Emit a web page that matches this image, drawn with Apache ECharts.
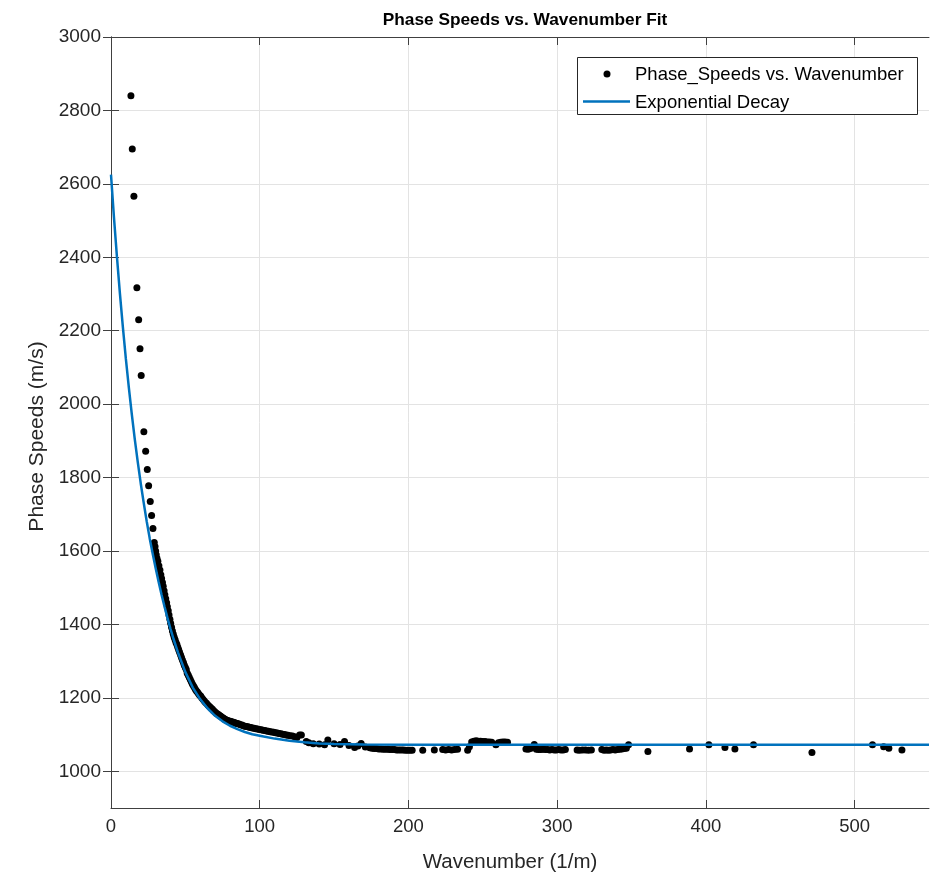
<!DOCTYPE html>
<html>
<head>
<meta charset="utf-8">
<script src="https://cdn.jsdelivr.net/npm/echarts@6/dist/echarts.min.js"></script>
<style>html,body{margin:0;padding:0;background:#fff;}#c{width:930px;height:878px;}</style>
</head>
<body>
<div id="c"></div>
<script>
// ---- data ----
const chartTitle = 'Phase Speeds vs. Wavenumber Fit';
const xAxisName = 'Wavenumber (1/m)';
const yAxisName = 'Phase Speeds (m/s)';
const scatterName = 'Phase_Speeds vs. Wavenumber';
const fitName = 'Exponential Decay';
const xTicks = [0, 100, 200, 300, 400, 500];
const yTicks = [1000, 1200, 1400, 1600, 1800, 2000, 2200, 2400, 2600, 2800, 3000];

// measured points: wavenumber
const waveNumbers = [
  13.4,14.3,15.4,17.4,18.6,19.5,20.3,22.1,23.3,24.4,25.3,26.4,27.3,28.2,29.1,29.6,30.0,30.4,30.9,31.5,
  32.2,32.9,33.5,34.0,34.6,35.1,35.7,36.2,36.8,37.4,37.9,38.5,39.0,39.6,40.1,40.7,41.3,41.9,42.5,43.1,
  43.7,44.3,44.9,45.5,46.1,46.8,47.4,48.0,48.7,49.3,50.0,50.6,51.2,51.9,52.6,53.3,54.0,54.7,55.4,56.1,
  56.8,57.5,58.2,58.9,59.6,60.3,61.0,61.8,62.6,63.4,64.2,65.0,65.8,66.6,67.4,68.2,69.0,69.8,70.6,71.4,
  72.2,73.0,73.8,74.6,75.4,76.2,77.0,77.8,78.6,79.4,80.2,81.0,81.8,82.6,83.4,84.2,85.0,86.0,87.0,88.0,
  89.0,90.0,91.0,92.0,93.0,94.0,95.0,96.2,97.4,98.6,99.8,101.0,102.2,103.4,104.6,105.8,107.0,108.2,109.4,110.6,
  111.8,113.0,114.2,115.4,116.6,117.8,119.0,120.5,122.0,123.5,125.0,126.8,128.0,131.3,133.0,136.0,140.0,143.6,145.8,150.0,
  154.0,157.0,160.0,163.8,166.0,168.2,171.0,174.0,175.5,177.0,178.5,180.0,181.5,183.0,184.5,186.0,187.5,189.0,190.5,192.0,
  193.5,195.0,196.5,198.0,199.5,201.0,202.5,209.6,217.4,223.0,225.0,227.0,229.0,231.0,233.0,239.8,241.0,242.5,244.0,245.5,
  247.0,248.5,250.0,251.5,253.0,254.5,256.0,258.8,260.5,262.0,263.5,265.0,266.6,279.0,280.5,282.0,284.6,286.0,287.5,289.0,
  290.5,292.0,293.5,295.0,296.5,298.0,299.5,301.0,302.5,304.0,305.5,313.4,315.0,317.0,319.0,321.0,323.0,330.0,331.5,333.0,
  334.5,336.0,337.5,339.0,340.5,342.0,343.5,345.0,346.5,348.0,361.0,389.0,402.0,412.8,419.5,432.0,471.3,512.0,519.5,523.0,
  531.8
];
// measured points: phase speed (m/s)
const phaseSpeeds = [
  2840,2695,2566,2317,2230,2151,2078,1925,1872,1822,1778,1735,1697,1661,1623,1612,1600,1590,1580,1572,
  1560,1548,1535,1525,1514,1504,1492,1481,1470,1459,1448,1437,1426,1414,1403,1392,1382,1373,1365,1358,
  1351,1345,1338,1331,1324,1317,1310,1303,1296,1289,1283,1277,1268,1262,1256,1250,1244,1238,1233,1228,
  1223,1219,1215,1211,1207,1205,1200,1196,1192,1188,1185,1181,1178,1175,1172,1169,1165,1162,1159,1157,
  1155,1152,1150,1147,1145,1143,1141,1139,1138,1136,1136,1135,1134,1133,1132,1130,1130,1129,1127,1126,
  1124,1123,1122,1121,1120,1119,1118,1117,1116,1115,1114,1113,1112,1111,1110,1109,1108,1107,1106,1105,
  1104,1103,1102,1101,1100,1099,1098,1097,1096,1094,1092,1099,1099,1081,1078,1075,1074,1072,1085,1075,
  1073,1081,1070,1065,1069,1076,1066,1064,1063,1062,1062,1061,1061,1060,1060,1060,1059,1059,1059,1058,
  1058,1058,1058,1057,1057,1057,1057,1057,1058,1059,1058,1059,1058,1059,1060,1057,1067,1080,1082,1083,
  1082,1082,1081,1081,1080,1080,1079,1072,1078,1079,1080,1080,1079,1061,1060,1062,1073,1060,1059,1059,
  1060,1059,1059,1058,1059,1058,1058,1059,1058,1058,1059,1058,1057,1058,1058,1057,1058,1059,1057,1058,
  1057,1058,1059,1058,1059,1060,1061,1062,1063,1072,1054,1061,1072,1065,1061,1072,1051,1072,1067,1063,
  1058
];

// fitted curve
const fitX = [0,2,4,6,8,10,12,14,16,18,20,22,24,26,28,30,32,34,36,38,40,42,45,50,55,60,65,70,75,80,85,90,95,100,110,120,130,140,150,170,200,250,550];
const fitY = [2625,2508,2401,2301,2209,2123,2045,1972,1904,1842,1784,1731,1681,1635,1593,1554,1516,1481,1448,1417,1388,1361,1324,1270,1228,1196,1171,1151,1136,1124,1115,1107,1101,1097,1089,1083,1079,1076,1074.5,1073,1072.5,1072,1072];

// ---- chart ----
const FONT = 'Liberation Sans, Arial, Helvetica, sans-serif';
const TXT = '#262626';
const AX = '#404040';
const BLUE = '#0072BD';
const scatterData = waveNumbers.map((x, i) => [x, phaseSpeeds[i]]);
const fitData = fitX.map((x, i) => [x, fitY[i]]);
const plainNum = v => String(v);

const baseX = {
  type: 'value', min: 0, max: 550,
  axisLine: { show: true, lineStyle: { color: AX, width: 1 } },
  axisTick: { show: true, inside: true, length: 8, customValues: xTicks, lineStyle: { color: AX } },
  axisLabel: { show: false, customValues: xTicks },
  splitLine: { show: false }
};
const baseY = {
  type: 'value', min: 900, max: 3000,
  axisLine: { show: true, lineStyle: { color: AX, width: 1 } },
  axisTick: { show: true, inside: true, length: 8, customValues: yTicks, lineStyle: { color: AX } },
  axisLabel: { show: false, customValues: yTicks },
  splitLine: { show: false }
};

const chart = echarts.init(document.getElementById('c'), null, { renderer: 'canvas' });
chart.setOption({
  animation: false,
  backgroundColor: '#ffffff',
  textStyle: { fontFamily: FONT },
  title: {
    text: chartTitle, left: 520, top: 7, textAlign: 'center',
    textStyle: { fontFamily: FONT, fontSize: 17.3, fontWeight: 'bold', color: '#000' }
  },
  grid: { left: 111, right: 1, top: 37, bottom: 70, containLabel: false },
  xAxis: [
    Object.assign({}, baseX, {
      position: 'bottom',
      name: xAxisName, nameLocation: 'middle', nameGap: 44,
      nameTextStyle: { fontFamily: FONT, fontSize: 20.5, color: TXT, padding: [0, 20, 0, 0] },
      axisLabel: { show: true, customValues: xTicks, margin: 9, fontFamily: FONT, fontSize: 18.5, color: TXT, formatter: plainNum },
      splitLine: { show: true, lineStyle: { color: '#e3e3e3', width: 1 } }
    }),
    Object.assign({}, baseX, { position: 'top' })
  ],
  yAxis: [
    Object.assign({}, baseY, {
      position: 'left',
      name: yAxisName, nameLocation: 'middle', nameGap: 62,
      nameTextStyle: { fontFamily: FONT, fontSize: 21, color: TXT, padding: [0, 28, 0, 0] },
      axisLabel: { show: true, customValues: yTicks, margin: 10, fontFamily: FONT, fontSize: 19, color: TXT, formatter: plainNum },
      splitLine: { show: true, lineStyle: { color: '#e3e3e3', width: 1 } }
    }),
    Object.assign({}, baseY, { position: 'right' })
  ],
  graphic: [
    { type: 'rect', left: 577, top: 57, z: 50, silent: true,
      shape: { width: 340, height: 57 },
      style: { fill: '#ffffff', stroke: '#262626', lineWidth: 1 } },
    { type: 'circle', z: 51, silent: true, shape: { cx: 607, cy: 74, r: 3.5 }, style: { fill: '#000' } },
    { type: 'text', z: 51, silent: true, x: 635, y: 75,
      style: { text: scatterName, fill: '#000', font: '18.5px ' + FONT, verticalAlign: 'middle', align: 'left' } },
    { type: 'line', z: 51, silent: true, shape: { x1: 583, y1: 101.5, x2: 630, y2: 101.5 },
      style: { stroke: BLUE, lineWidth: 2.5 } },
    { type: 'text', z: 51, silent: true, x: 635, y: 102.5,
      style: { text: fitName, fill: '#000', font: '18.5px ' + FONT, verticalAlign: 'middle', align: 'left' } }
  ],
  series: [
    {
      name: scatterName, type: 'scatter', data: scatterData,
      symbol: 'circle', symbolSize: 7,
      itemStyle: { color: '#000000', opacity: 1 }, z: 2
    },
    {
      name: fitName, type: 'line', data: fitData,
      showSymbol: false, symbol: 'none', smooth: false,
      lineStyle: { color: BLUE, width: 2.5 },
      itemStyle: { color: BLUE }, z: 3
    }
  ]
});
</script>
</body>
</html>
